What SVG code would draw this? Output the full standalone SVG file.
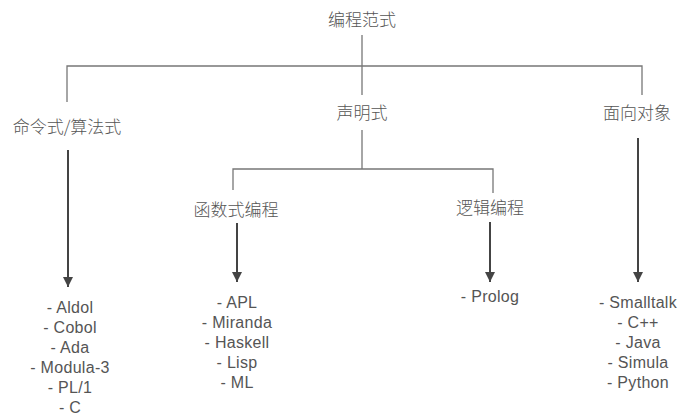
<svg xmlns="http://www.w3.org/2000/svg" width="681" height="415" viewBox="0 0 681 415">
<defs>
<marker id="ah" viewBox="0 0 10 10" refX="10" refY="5" markerWidth="5" markerHeight="5" markerUnits="strokeWidth" orient="auto">
<path d="M0,0 L10,5 L0,10 z" fill="#444"/>
</marker>
<style>
.cn{font-family:"Noto Sans CJK SC","Noto Sans",sans-serif;font-size:17px;fill:#555;text-anchor:middle;font-weight:300}
.ls{font-family:"Liberation Sans",Arial,sans-serif;font-size:16px;fill:#555;text-anchor:middle;letter-spacing:0.3px}
.ln{stroke:#777;stroke-width:1.3;fill:none}
.ar{stroke:#444;stroke-width:2;fill:none;marker-end:url(#ah)}
</style>
</defs>
<rect width="681" height="415" fill="#fff"/>
<g id="connectors">
<path class="ln" d="M362,35 V95 M67,102 V66 H642 V95"/>
<path class="ln" d="M362,130 V169 M233,190 V169 H493 V193"/>
<line class="ar" x1="68" y1="150" x2="68" y2="287"/>
<line class="ar" x1="237" y1="223" x2="237" y2="282"/>
<line class="ar" x1="490" y1="222" x2="490" y2="282"/>
<line class="ar" x1="638" y1="138" x2="638" y2="282"/>
</g>
<g id="root"><text class="cn" x="362" y="26">编程范式</text></g>
<g id="imperative"><text class="cn" x="67" y="133">命令式/算法式</text></g>
<g id="declarative"><text class="cn" x="362" y="119">声明式</text></g>
<g id="oo"><text class="cn" x="637" y="119">面向对象</text></g>
<g id="functional"><text class="cn" x="236" y="216">函数式编程</text></g>
<g id="logic"><text class="cn" x="490" y="214">逻辑编程</text></g>
<g id="imperative-list"><text class="ls" x="70" y="313">- Aldol<tspan x="70" dy="20">- Cobol</tspan><tspan x="70" dy="20">- Ada</tspan><tspan x="70" dy="20">- Modula-3</tspan><tspan x="70" dy="20">- PL/1</tspan><tspan x="70" dy="20">- C</tspan></text></g>
<g id="functional-list"><text class="ls" x="237" y="308">- APL<tspan x="237" dy="20">- Miranda</tspan><tspan x="237" dy="20">- Haskell</tspan><tspan x="237" dy="20">- Lisp</tspan><tspan x="237" dy="20">- ML</tspan></text></g>
<g id="logic-list"><text class="ls" x="490" y="302">- Prolog</text></g>
<g id="oo-list"><text class="ls" x="638" y="308">- Smalltalk<tspan x="638" dy="20">- C++</tspan><tspan x="638" dy="20">- Java</tspan><tspan x="638" dy="20">- Simula</tspan><tspan x="638" dy="20">- Python</tspan></text></g>
</svg>
